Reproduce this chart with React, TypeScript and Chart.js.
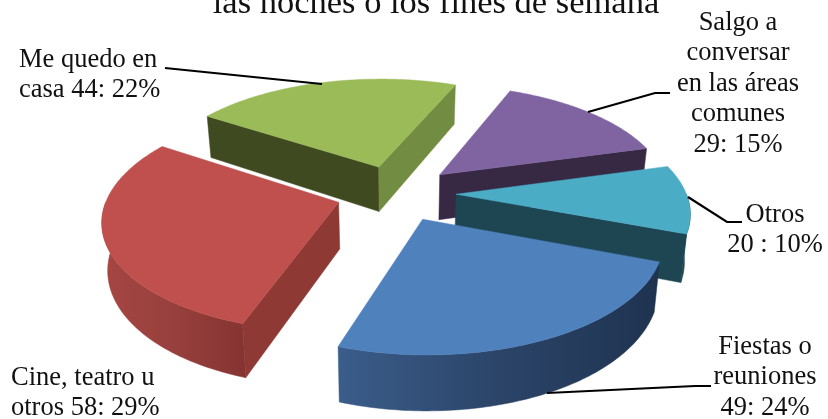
import React, { useEffect, useRef } from "react";
import { Chart, registerables } from "chart.js";

Chart.register(...registerables);

const categories = ["Fiestas o reuniones", "Cine, teatro u otros", "Me quedo en casa", "Salgo a conversar en las áreas comunes", "Otros"];
const values = [49, 58, 44, 29, 20];
const topColors = ["#4F81BD", "#C0504D", "#9BBB59", "#8064A2", "#4BACC6"];
const titleText = "las noches o los fines de semana";
const labelLines = [
  ["Fiestas o", "reuniones", "49: 24%"],
  ["Cine, teatro u", "otros 58: 29%"],
  ["Me quedo en", "casa 44: 22%"],
  ["Salgo a", "conversar", "en las áreas", "comunes", "29: 15%"],
  ["Otros", "20 : 10%"],
];

// styling: side-wall shades for every slice
const outerWall = [
  ["#3B5D8A", "#2B4468", "#1F3350"],
  ["#A64643", "#97403D", "#863432"],
  ["#404A21", "#404A21", "#404A21"],
  ["#372843", "#372843", "#372843"],
  ["#1D4552", "#1D4552", "#1D4552"],
];
const startWall = ["#1F3350", "#8F3935", "#404A21", "#372843", "#1D4552"];
const endWall = ["#1F3350", "#8F3935", "#728C42", "#372843", "#1D4552"];

const SQUASH = 0.468;
const PERSPECTIVE = 0.000628;
const DEPTH = 46;
const TAPER = 0.02;
const FONT = '26.5px "Liberation Serif", "Times New Roman", serif';
const TEXT = "#111";

const labelPlacement = [
  { x: 765, y: 347, align: "center" },
  { x: 11, y: 378, align: "left" },
  { x: 19, y: 60, align: "left" },
  { x: 738, y: 23, align: "center" },
  { x: 775, y: 215, align: "center" },
];
const leaders: number[][][] = [
  [[547, 393], [695, 386], [711, 386]],
  [],
  [[165, 68], [322, 84]],
  [[588, 112], [655, 93], [670, 93]],
  [[688, 197], [727, 222], [742, 222]],
];

const pie3d = {
  id: "pie3d",
  beforeDatasetDraw(chart: any) {
    const { ctx } = chart;
    const arcs: any[] = chart.getDatasetMeta(0).data;
    const project = (X: number, Y: number, cx: number, cy: number, lift = 0) => {
      const f = 1 / (1 - PERSPECTIVE * Y);
      const taper = 1 - (TAPER * lift) / DEPTH;
      return [cx + X * f * taper, cy + SQUASH * Y * f + lift * f];
    };
    const items = arcs.map((arc, i) => {
      const mid = (arc.startAngle + arc.endAngle) / 2;
      const e = (arc.options.offset || 0) / 4;
      return { arc, i, mid, ox: Math.cos(mid) * e, oy: Math.sin(mid) * e };
    });
    items.sort((a, b) => a.oy - b.oy);
    for (const { arc, i, ox, oy } of items) {
      const R = arc.outerRadius;
      const cx = arc.x;
      const cy = arc.y;
      const p = (a: number, r: number, lift = 0) =>
        project(ox + r * Math.cos(a), oy + r * Math.sin(a), cx, cy, lift);
      const poly = (pts: number[][], fill: any) => {
        ctx.beginPath();
        pts.forEach((q, n) => (n ? ctx.lineTo(q[0], q[1]) : ctx.moveTo(q[0], q[1])));
        ctx.closePath();
        ctx.fillStyle = fill;
        ctx.fill();
        ctx.strokeStyle = fill;
        ctx.lineWidth = 0.5;
        ctx.stroke();
      };
      const sweep = (a0: number, a1: number, lift = 0) => {
        const out: number[][] = [];
        const n = Math.max(2, Math.ceil((a1 - a0) * 60));
        for (let k = 0; k <= n; k++) out.push(p(a0 + ((a1 - a0) * k) / n, R, lift));
        return out;
      };
      const a0 = arc.startAngle;
      const a1 = arc.endAngle;
      // curved wall facing the viewer
      for (const base of [0, 2 * Math.PI]) {
        const s = Math.max(a0, base);
        const t = Math.min(a1, base + Math.PI);
        if (t <= s) continue;
        const top = sweep(s, t);
        const bottom = sweep(s, t, DEPTH).reverse();
        const xs = top.map((q) => q[0]);
        const g = ctx.createLinearGradient(Math.min(...xs), 0, Math.max(...xs), 0);
        g.addColorStop(0, outerWall[i][0]);
        g.addColorStop(0.5, outerWall[i][1]);
        g.addColorStop(1, outerWall[i][2]);
        poly([...top, ...bottom], g);
      }
      // radial walls facing the viewer
      if (-Math.cos(a0) > 0) {
        poly([p(a0, 0), p(a0, R), p(a0, R, DEPTH), p(a0, 0, DEPTH)], startWall[i]);
      }
      if (Math.cos(a1) > 0) {
        poly([p(a1, 0), p(a1, R), p(a1, R, DEPTH), p(a1, 0, DEPTH)], endWall[i]);
      }
      // top surface
      poly([p(a0, 0), ...sweep(a0, a1)], arc.options.backgroundColor);
    }
    return false;
  },
  afterDraw(chart: any) {
    const { ctx } = chart;
    ctx.save();
    ctx.fillStyle = TEXT;
    ctx.textBaseline = "middle";
    ctx.font = FONT;
    labelLines.forEach((lines, i) => {
      ctx.textAlign = labelPlacement[i].align;
      lines.forEach((line, n) => {
        ctx.fillText(line, labelPlacement[i].x, labelPlacement[i].y + n * 30.5);
      });
    });
    ctx.textAlign = "center";
    ctx.font = '34.5px "Liberation Serif", "Times New Roman", serif';
    ctx.textBaseline = "alphabetic";
    ctx.fillText(titleText, 436, 13);
    ctx.strokeStyle = "#000";
    ctx.lineWidth = 2.2;
    for (const line of leaders) {
      if (!line.length) continue;
      ctx.beginPath();
      line.forEach((q, n) => (n ? ctx.lineTo(q[0], q[1]) : ctx.moveTo(q[0], q[1])));
      ctx.stroke();
    }
    ctx.restore();
  },
};

export default function App() {
  const ref = useRef<HTMLCanvasElement>(null);
  useEffect(() => {
    document.body.style.margin = "0";
    const chart = new Chart(ref.current as HTMLCanvasElement, {
      type: "pie",
      data: {
        labels: categories,
        datasets: [{ data: values, backgroundColor: topColors, borderWidth: 0, offset: 240 }],
      },
      options: {
        animation: false,
        responsive: false,
        rotation: 110.5,
        radius: 230,
        layout: { padding: { right: 36, bottom: 33 } },
        plugins: { legend: { display: false }, tooltip: { enabled: false }, title: { display: false } },
      },
      plugins: [pie3d],
    } as any);
    return () => chart.destroy();
  }, []);
  return (
    <div style={{ width: 828, height: 419, background: "#fff", overflow: "hidden" }}>
      <canvas ref={ref} width={828} height={419} style={{ display: "block" }} />
    </div>
  );
}
